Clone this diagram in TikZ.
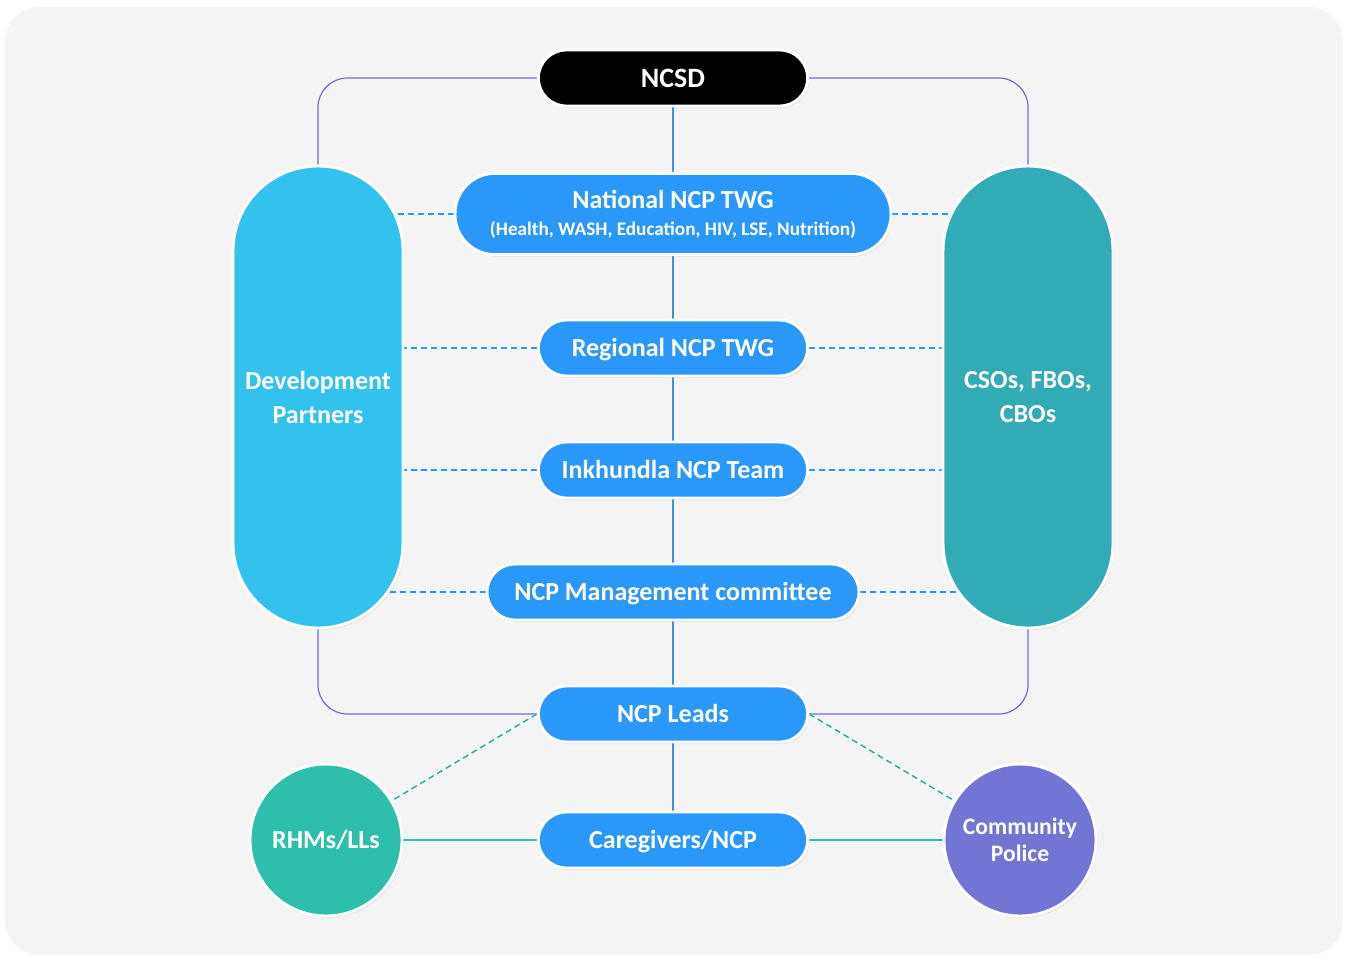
\documentclass[tikz,border=0pt]{standalone}
\usepackage{fontspec}
\setmainfont{Carlito}
\usetikzlibrary{backgrounds,shadows}

\definecolor{bgGray}{HTML}{F4F4F4}
\definecolor{ncpBlue}{HTML}{2A98F8}
\definecolor{spineBlue}{HTML}{3D8FE6}
\definecolor{dpCyan}{HTML}{33C2EE}
\definecolor{csoTeal}{HTML}{31ABB5}
\definecolor{rhmGreen}{HTML}{2DBFAA}
\definecolor{policeViolet}{HTML}{7275D3}
\definecolor{frameViolet}{HTML}{6F6FD6}
\definecolor{diagTeal}{HTML}{2AAFA8}

\tikzset{
  pillshadow/.style={drop shadow={opacity=0.18, shadow xshift=1pt, shadow yshift=-1.5pt}},
  pill/.style={rectangle, rounded corners=21pt, minimum width=202pt,
    minimum height=42pt, inner sep=0pt, fill=ncpBlue, draw=white,
    line width=2.2pt, text=white, pillshadow, text height=14.5pt, text depth=2pt,
    font=\bfseries\fontsize{19.5}{24}\selectfont},
  sidebar/.style={rectangle, rounded corners=63.5pt, minimum width=127.5pt,
    minimum height=346.5pt, inner sep=0pt, draw=white, line width=2.2pt,
    text=white, align=center, pillshadow,
    font=\bfseries\fontsize{19.5}{25.5}\selectfont},
  bubble/.style={circle, minimum size=114pt, inner sep=0pt, draw=white,
    line width=2.2pt, text=white, align=center, pillshadow},
  spine/.style={spineBlue, line width=1.1pt},
  frame/.style={frameViolet, line width=0.9pt, rounded corners=22pt},
  link/.style={ncpBlue, line width=1.1pt, dash pattern=on 4.5pt off 3pt},
  diaglink/.style={diagTeal, line width=1.1pt, dash pattern=on 4.5pt off 3pt},
  tealline/.style={rhmGreen, line width=1.1pt}
}

\begin{document}
\begin{tikzpicture}[x=0.75pt, y=-0.75pt]

  \useasboundingbox (0,0) rectangle (1351,956);

  % Centre column
  \node[pill, fill=black, text height=15.5pt, font=\bfseries\fontsize{21}{25}\selectfont] (ncsd) at (673,78) {NCSD};
  \node[pill, minimum width=327pt, minimum height=61pt, rounded corners=30pt, align=center,
        text height=, text depth=] (nat) at (673,214)
    {National NCP TWG\\[-3.8pt]{\fontsize{14.4}{17}\selectfont (Health, WASH, Education, HIV, LSE, Nutrition)}};
  \node[pill] (reg) at (673,348) {Regional NCP TWG};
  \node[pill] (ink) at (673,470) {Inkhundla NCP Team};
  \node[pill, minimum width=279pt] (mgmt) at (673,592) {NCP Management committee};
  \node[pill] (leads) at (673,714) {NCP Leads};
  \node[pill] (care) at (673,840) {Caregivers/NCP};

  % Side bars
  \node[sidebar, fill=dpCyan] (dp) at (318,397) {Development\\Partners};
  \node[sidebar, fill=csoTeal] (cso) at (1028,397) {CSOs, FBOs,\\CBOs};

  % Circles
  \node[bubble, fill=rhmGreen, font=\bfseries\fontsize{19.5}{24}\selectfont] (rhm) at (326,840) {RHMs/LLs};
  \node[bubble, fill=policeViolet, font=\bfseries\fontsize{17.7}{20}\selectfont] (police) at (1020,840) {Community\\Police};

  \begin{pgfonlayer}{background}
    % Panel
    \fill[bgGray, rounded corners=26pt] (5,7) rectangle (1343,955);
    % Spine
    \draw[spine] (ncsd) -- (nat) -- (reg) -- (ink) -- (mgmt) -- (leads) -- (care);
    % Frame
    \draw[frame] (ncsd.west) -| (dp.north);
    \draw[frame] (ncsd.east) -| (cso.north);
    \draw[frame] (dp.south) |- (leads.west);
    \draw[frame] (cso.south) |- (leads.east);
    % Dashed links
    \foreach \lvl in {nat,reg,ink,mgmt}{
      \draw[link] (\lvl.west) -- (\lvl.west -| dp.center);
      \draw[link] (\lvl.east) -- (\lvl.east -| cso.center);
    }
    \draw[diaglink] (leads.west) -- (rhm.center);
    \draw[diaglink] (leads.east) -- (police.center);
    % Bottom row
    \draw[tealline] (rhm) -- (care);
    \draw[tealline] (care) -- (police);
  \end{pgfonlayer}

\end{tikzpicture}
\end{document}
